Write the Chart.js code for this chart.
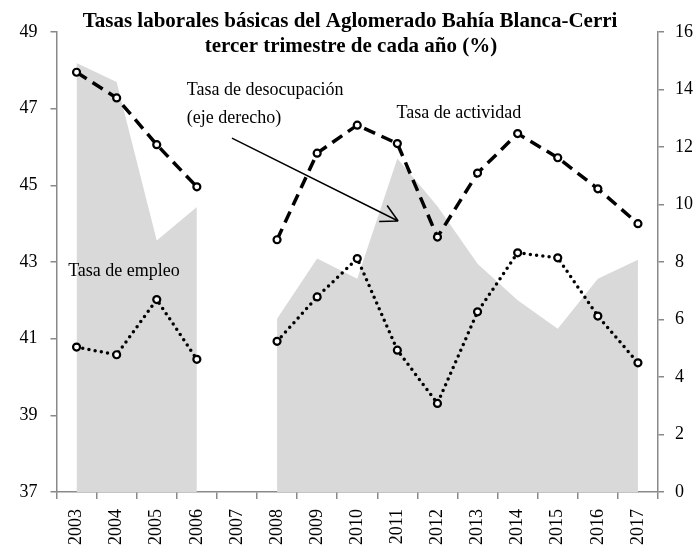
<!DOCTYPE html>
<html>
<head>
<meta charset="utf-8">
<script src="https://cdn.jsdelivr.net/npm/chart.js@4"></script>
<style>
  html, body { margin: 0; padding: 0; background: #fff; }
</style>
</head>
<body>
<canvas id="chart" width="700" height="548"></canvas>
<script>
// Tasas laborales básicas, Aglomerado Bahía Blanca-Cerri (3er trimestre)
const years = ["2003", "2004", "2005", "2006", "2007", "2008", "2009", "2010",
  "2011", "2012", "2013", "2014", "2015", "2016", "2017"];
const actividad = [47.95, 47.28, 46.06, 44.96, null, 43.58, 45.84, 46.57,
  46.09, 43.65, 45.32, 46.35, 45.72, 44.91, 44.0];
const empleo = [40.78, 40.58, 42.02, 40.46, null, 40.93, 42.09, 43.09,
  40.7, 39.31, 41.7, 43.24, 43.11, 41.59, 40.37];
const desocupacion = [14.92, 14.26, 8.75, 9.91, null, 6.03, 8.12, 7.42,
  11.6, 9.94, 7.94, 6.67, 5.68, 7.42, 8.08];
const leftTicks = [37, 39, 41, 43, 45, 47, 49];
const rightTicks = [0, 2, 4, 6, 8, 10, 12, 14, 16];

const serif = '"Liberation Serif", "Times New Roman", serif';
const axisGrey = "#898989";

// title, labels and arrow drawn on top of the chart area
const annotations = {
  id: "annotations",
  afterDraw(chart) {
    const { ctx } = chart;
    const x = chart.scales.x;
    const y = chart.scales.y;
    ctx.save();
    ctx.fillStyle = "#000";
    ctx.textAlign = "center";
    ctx.textBaseline = "middle";
    ctx.font = "bold 21px " + serif;
    ctx.fillText("Tasas laborales básicas del Aglomerado Bahía Blanca-Cerri", 350, 22);
    ctx.fillText("tercer trimestre de cada año (%)", 351, 47);

    ctx.font = "18px " + serif;
    ctx.textAlign = "left";
    ctx.fillText("Tasa de desocupación", x.getPixelForValue(2.75), y.getPixelForValue(47.48));
    ctx.fillText("(eje derecho)", x.getPixelForValue(2.75), y.getPixelForValue(46.74));
    ctx.fillText("Tasa de actividad", x.getPixelForValue(7.98), y.getPixelForValue(46.89));
    ctx.fillText("Tasa de empleo", x.getPixelForValue(-0.21), y.getPixelForValue(42.76));

    // arrow pointing at the unemployment area
    const x0 = x.getPixelForValue(3.875), y0 = y.getPixelForValue(46.23);
    const x1 = x.getPixelForValue(8.02), y1 = y.getPixelForValue(44.07);
    const ang = Math.atan2(y1 - y0, x1 - x0);
    ctx.strokeStyle = "#000";
    ctx.lineWidth = 1.5;
    ctx.beginPath();
    ctx.moveTo(x0, y0);
    ctx.lineTo(x1, y1);
    for (const d of [0.49, -0.49]) {
      ctx.moveTo(x1, y1);
      ctx.lineTo(x1 - 19 * Math.cos(ang + d), y1 - 19 * Math.sin(ang + d));
    }
    ctx.stroke();
    ctx.restore();
  }
};

const pointStyle = {
  pointRadius: 3.5,
  pointBorderWidth: 2.2,
  pointBackgroundColor: "#fff",
  pointBorderColor: "#000",
  borderColor: "#000",
  spanGaps: false,
  tension: 0,
  fill: false
};

new Chart(document.getElementById("chart"), {
  type: "line",
  data: {
    labels: years,
    datasets: [
      {
        label: "Tasa de actividad",
        data: actividad,
        yAxisID: "y",
        borderWidth: 3.5,
        borderDash: [12, 7],
        order: 0,
        ...pointStyle
      },
      {
        label: "Tasa de empleo",
        data: empleo,
        yAxisID: "y",
        borderWidth: 3.5,
        borderDash: [0, 6.3],
        borderCapStyle: "round",
        order: 0,
        ...pointStyle
      },
      {
        label: "Tasa de desocupación",
        data: desocupacion,
        yAxisID: "y2",
        borderWidth: 0,
        borderColor: "rgba(0,0,0,0)",
        backgroundColor: "#d9d9d9",
        pointRadius: 0,
        fill: "origin",
        spanGaps: false,
        tension: 0,
        order: 1
      }
    ]
  },
  options: {
    responsive: false,
    animation: false,
    layout: { padding: { top: 32, left: 0, right: 0, bottom: 0 } },
    plugins: {
      legend: { display: false },
      tooltip: { enabled: false },
      title: { display: false }
    },
    scales: {
      x: {
        offset: true,
        grid: {
          offset: true,
          drawOnChartArea: false,
          tickLength: 7,
          color: axisGrey,
          lineWidth: 1.5
        },
        border: { color: axisGrey, width: 1.5 },
        ticks: {
          color: "#000",
          font: { family: serif, size: 18 },
          minRotation: 90,
          maxRotation: 90,
          autoSkip: false,
          padding: 10
        },
        afterFit: (scale) => { scale.height = 56; }
      },
      y: {
        position: "left",
        min: leftTicks[0],
        max: leftTicks[leftTicks.length - 1],
        afterBuildTicks: (scale) => { scale.ticks = leftTicks.map((v) => ({ value: v })); },
        grid: {
          drawOnChartArea: false,
          tickLength: 6,
          color: axisGrey,
          lineWidth: 1.5
        },
        border: { color: axisGrey, width: 1.5 },
        ticks: {
          color: "#000",
          font: { family: serif, size: 18 },
          padding: 13
        },
        afterFit: (scale) => { scale.width = 56.5; }
      },
      y2: {
        position: "right",
        min: rightTicks[0],
        max: rightTicks[rightTicks.length - 1],
        afterBuildTicks: (scale) => { scale.ticks = rightTicks.map((v) => ({ value: v })); },
        grid: {
          drawOnChartArea: false,
          tickLength: 6,
          color: axisGrey,
          lineWidth: 1.5
        },
        border: { color: axisGrey, width: 1.5 },
        ticks: {
          color: "#000",
          font: { family: serif, size: 18 },
          padding: 11
        },
        afterFit: (scale) => { scale.width = 42; }
      }
    }
  },
  plugins: [annotations]
});
</script>
</body>
</html>
